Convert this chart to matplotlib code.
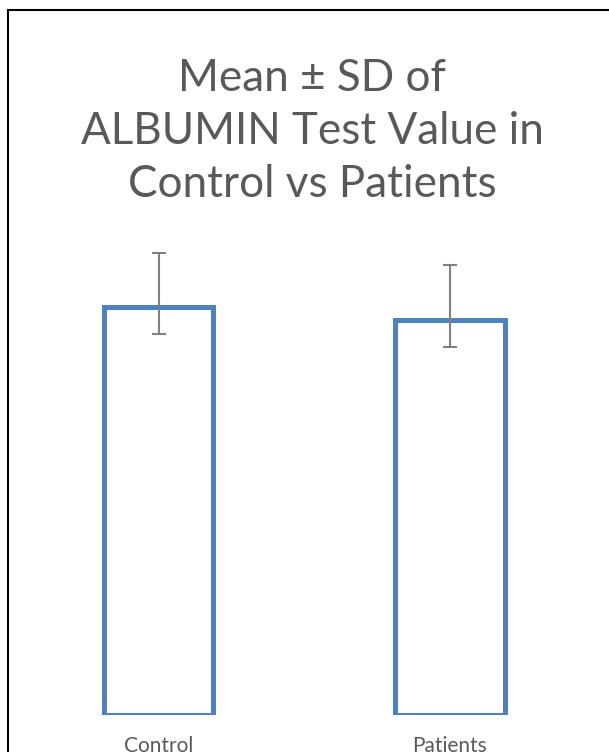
import matplotlib
matplotlib.use("Agg")
import matplotlib.pyplot as plt
from matplotlib.patches import Rectangle

# data
groups = ["Control", "Patients"]
means = [4.20, 4.07]
err_low = [0.28, 0.28]
err_high = [0.56, 0.56]

plt.rcParams['font.family'] = ['Lato', 'DejaVu Sans']

fig = plt.figure(figsize=(6.09, 7.52), dpi=100)
W, H = 609, 752

# plot area in pixels
left_px, right_px = 12.75, 595.75
base_px, top_px = 715, 229.5
ax = fig.add_axes([left_px / W, (H - base_px) / H,
                   (right_px - left_px) / W, (base_px - top_px) / H])

x = range(len(groups))
ax.bar(x, means, width=0.377, facecolor='none', edgecolor='#4F81BD', linewidth=3.6)
ax.errorbar(x, means, yerr=[err_low, err_high], fmt='none', ecolor='#808080',
            elinewidth=1.5, capsize=4.7, capthick=1.5)

ax.set_xlim(-0.5, 1.5)
ax.set_ylim(0, 5)
ax.set_xticks(list(x))
ax.set_xticklabels(groups, fontsize=15, color='#595959')
ax.tick_params(axis='x', length=0, pad=15)
ax.set_yticks([])
for s in ax.spines.values():
    s.set_visible(False)

fig.text(312 / W, 1 - 197 / H, "Mean ± SD of\nALBUMIN Test Value in\nControl vs Patients",
         ha='center', va='baseline', fontsize=31.7, color='#595959', linespacing=1.36)

# outer border (cropped at right/bottom)
fig.patches.append(Rectangle((8 / W, -0.1), 1.2, (H - 10) / H + 0.1,
                             transform=fig.transFigure, fill=False,
                             edgecolor='black', linewidth=1.5))

fig.savefig("out.png", dpi=100)
